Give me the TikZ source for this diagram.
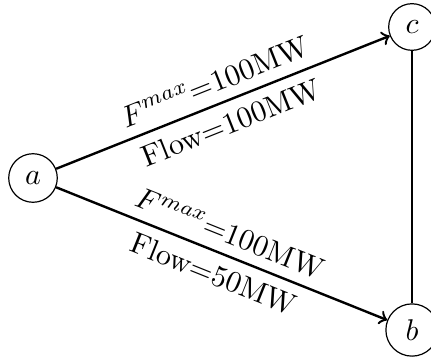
\documentclass[tikz,border=0pt]{standalone}
\begin{document}
\begin{tikzpicture}[x=0.3333pt,y=-0.3333pt,
  bus/.style={circle,draw},
  flowarrow/.style={->,thick},
  plainline/.style={semithick}]
\useasboundingbox (0,0) rectangle (431,356);
\node[bus] (a) at (33,178) {$a$};
\node[bus] (c) at (412,27) {$c$};
\node[bus] (b) at (412,330) {$b$};
\draw[flowarrow] (a) -- node[above,sloped] {$F^{max}$=100MW} node[below,sloped] {Flow=100MW} (c);
\draw[flowarrow] (a) -- node[above,sloped] {$F^{max}$=100MW} node[below,sloped] {Flow=50MW} (b);
\draw[plainline] (c) -- (b);
\end{tikzpicture}
\end{document}
